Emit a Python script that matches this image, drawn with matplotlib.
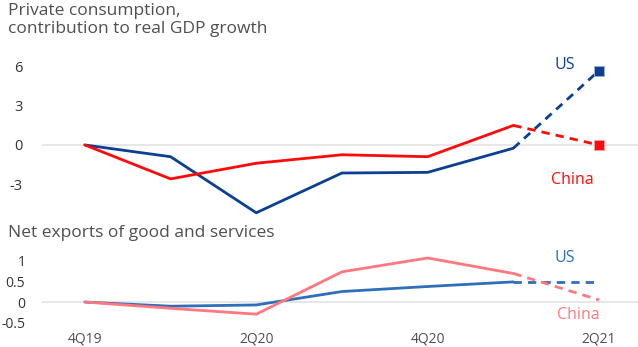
import matplotlib.pyplot as plt

plt.rcParams['font.family'] = ['Open Sans', 'DejaVu Sans']

# Data
quarters = ['4Q19', '1Q20', '2Q20', '3Q20', '4Q20', '1Q21', '2Q21']
tick_quarters = ['4Q19', '2Q20', '4Q20', '2Q21']

cons_us = [0, -0.9, -5.2, -2.15, -2.1, -0.25, 5.7]
cons_china = [0, -2.6, -1.4, -0.75, -0.9, 1.5, 0.0]

nx_us = [0, -0.1, -0.07, 0.25, 0.37, 0.48, 0.48]
nx_china = [0, -0.15, -0.29, 0.72, 1.05, 0.68, 0.05]

# Colours
US_DARK = '#0b3f93'
CHINA_RED = '#ff0a0a'
US_MID = '#2f6fba'
CHINA_PINK = '#ff7880'
GREY_TXT = '#4f4f4f'

W, H = 638, 347
fig = plt.figure(figsize=(W / 100, H / 100), dpi=100)

x = list(range(len(quarters)))


def fx(px):
    return px / W


def fy(py):
    return 1 - py / H


def draw_pair(ax, us, china, c_us, c_china, markers):
    ax.axhline(0, color='#e3e3e3', lw=1.2, zorder=0)
    ax.plot(x[:-1], us[:-1], color=c_us, lw=2.0, solid_capstyle='round')
    ax.plot(x[-2:], us[-2:], color=c_us, lw=2.0, ls=(0, (3, 2.2)))
    ax.plot(x[:-1], china[:-1], color=c_china, lw=2.0, solid_capstyle='round')
    ax.plot(x[-2:], china[-2:], color=c_china, lw=2.0, ls=(0, (3, 2.2)))
    if markers:
        ax.plot(x[-1], us[-1], 's', color=c_us, ms=6.5, mec='#a0b0d0', mew=0.6)
        ax.plot(x[-1], china[-1], 's', color=c_china, ms=6.5, mec='#f0a0a0', mew=0.6)
    ax.set_xlim(-0.5, 6.455)
    for s in ax.spines.values():
        s.set_visible(False)
    ax.tick_params(length=0, labelsize=10.5, labelcolor='#333333')


# Top panel: private consumption
ax1 = fig.add_axes([fx(42), fy(218), fx(596), (218 - 55) / H])
draw_pair(ax1, cons_us, cons_china, US_DARK, CHINA_RED, True)
ax1.set_ylim(-5.6, 6.9)
ax1.set_yticks([-3, 0, 3, 6])
ax1.set_yticklabels(['-3', '0', '3', '6'])
ax1.set_xticks([])
ax1.tick_params(axis='y', pad=14)

fig.text(fx(8), fy(20), 'Private consumption,\ncontribution to real GDP growth',
         fontsize=12.5, color=GREY_TXT, va='center', ha='left', linespacing=1.1)
fig.text(fx(565), fy(65), 'US', fontsize=11.5, color=US_DARK, ha='center', va='center')
fig.text(fx(572), fy(180), 'China', fontsize=11.5, color=CHINA_RED, ha='center', va='center')

# Bottom panel: net exports
ax2 = fig.add_axes([fx(42), fy(330), fx(596), 80 / H])
draw_pair(ax2, nx_us, nx_china, US_MID, CHINA_PINK, False)
ax2.set_ylim(-0.667, 1.24)
ax2.set_yticks([-0.5, 0, 0.5, 1])
ax2.set_yticklabels(['-0.5', '0', '0.5', '1'])
ax2.set_xticks([quarters.index(q) for q in tick_quarters])
ax2.set_xticklabels(tick_quarters, color=GREY_TXT)
ax2.tick_params(axis='x', pad=1, labelsize=10)
ax2.tick_params(axis='y', pad=12, labelsize=10)

fig.text(fx(8), fy(233), 'Net exports of good and services',
         fontsize=12.5, color=GREY_TXT, va='center', ha='left')
fig.text(fx(565), fy(258), 'US', fontsize=11.5, color=US_MID, ha='center', va='center')
fig.text(fx(578), fy(315), 'China', fontsize=11.5, color=CHINA_PINK, ha='center', va='center')

fig.savefig('out.png', dpi=100)
